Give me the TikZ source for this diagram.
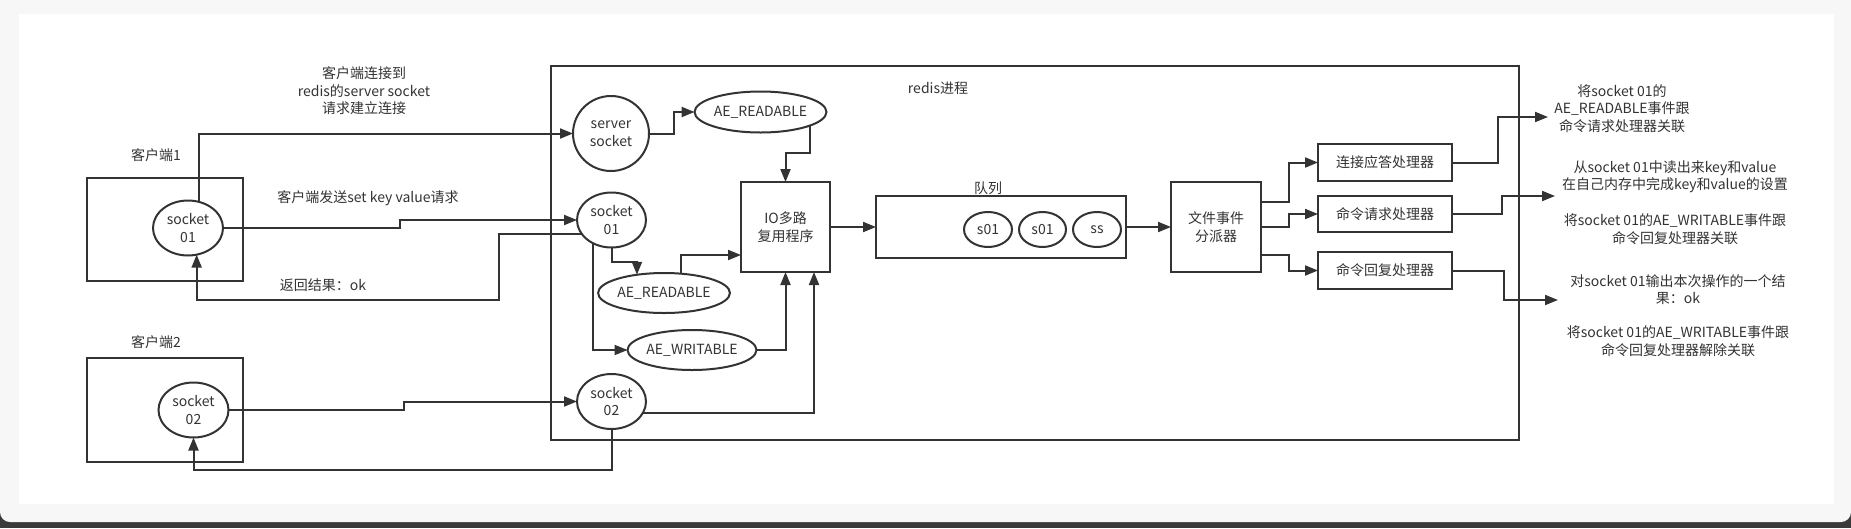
\documentclass[tikz,border=0pt]{standalone}
\usepackage{fontspec}
\setmainfont{Noto Sans CJK SC}
\usetikzlibrary{shapes.geometric,arrows.meta}
\definecolor{ink}{HTML}{333333}
\definecolor{panel}{HTML}{F7F7F7}
\definecolor{band}{HTML}{3A3A3A}

\begin{document}
\begin{tikzpicture}[x=1pt,y=-1pt,
  every node/.style={text=ink, font=\fontsize{14}{17.5}\selectfont, align=center, inner sep=0pt, outer sep=0pt},
  sock/.style={ellipse, draw=ink, line width=2pt, minimum width=70pt, minimum height=55pt},
  evt/.style={ellipse, draw=ink, line width=2pt, minimum width=121pt, minimum height=41pt},
  qitem/.style={ellipse, draw=ink, line width=2pt, minimum width=48pt, minimum height=35pt},
  box/.style={rectangle, draw=ink, line width=2pt},
  conn/.style={draw=ink, line width=2pt, -{Triangle[length=13pt,width=10pt]}}]
\useasboundingbox (0,0) rectangle (1851,528);
\fill[band] (0,0) rectangle (1851,528);
\fill[panel, rounded corners=10pt] (0,-20) rectangle (1851,522);
\fill[white] (19,14) rectangle (1834,504);

% clients
\node (cl1lbl) at (156,155) {客户端1};
\node[box, minimum width=156pt, minimum height=103pt] (cl1) at (165,229.5) {};
\node[sock] (cs1) at (188,228) {socket\\01};
\node (cl2lbl) at (156,342) {客户端2};
\node[box, minimum width=156pt, minimum height=104pt] (cl2) at (165,410) {};
\node[sock] (cs2) at (193.5,410) {socket\\02};

% redis process
\node[box, minimum width=968pt, minimum height=374pt] (redis) at (1035,253) {};
\node (redislbl) at (938,88) {redis进程};
\node[sock, minimum width=76pt, minimum height=75pt] (srv) at (611,133.5) {server\\socket};
\node[evt] (rd1) at (760.5,112) {AE\_READABLE};
\node[sock, minimum width=69pt] (ss1) at (611.5,220) {socket\\01};
\node[evt, minimum width=122pt, minimum height=40pt] (rd2) at (664,293) {AE\_READABLE};
\node[evt, minimum width=120pt, minimum height=40pt] (wr) at (692,350) {AE\_WRITABLE};
\node[sock, minimum width=69pt] (ss2) at (611.5,401.5) {socket\\02};
\node[box, minimum width=89pt, minimum height=90pt] (io) at (785.5,227) {IO多路\\复用程序};

\node[box, minimum width=250pt, minimum height=62pt] (queue) at (1001,227) {};
\node (queuelbl) at (988,188) {队列};
\node[qitem] (q1) at (988,229.5) {s01};
\node[qitem, minimum width=47pt] (q2) at (1042.5,229.5) {s01};
\node[qitem] (q3) at (1097,229.5) {ss};

\node[box, minimum width=90pt, minimum height=90pt] (disp) at (1216,227) {文件事件\\分派器};
\node[box, minimum width=134pt, minimum height=37pt] (h1) at (1385,162.5) {连接应答处理器};
\node[box, minimum width=134pt, minimum height=36pt] (h2) at (1385,214) {命令请求处理器};
\node[box, minimum width=134pt, minimum height=37pt] (h3) at (1385,270.5) {命令回复处理器};

% notes
\node (note1) at (364,91) {客户端连接到\\redis的server socket\\请求建立连接};
\node (note2) at (368,198) {客户端发送set key value请求};
\node (note3) at (323,285) {返回结果：ok};
\node (r1) at (1622,108.5) {将socket 01的\\AE\_READABLE事件跟\\命令请求处理器关联};
\node (r2) at (1675,177) {从socket 01中读出来key和value\\在自己内存中完成key和value的设置};
\node (r3) at (1675,229) {将socket 01的AE\_WRITABLE事件跟\\命令回复处理器关联};
\node (r4) at (1678,289.5) {对socket 01输出本次操作的一个结\\果：ok};
\node (r5) at (1678,341) {将socket 01的AE\_WRITABLE事件跟\\命令回复处理器解除关联};
\coordinate (e1) at (1548,117);
\coordinate (e2) at (1555,196);
\coordinate (e3) at (1558,300);

% connectors
\draw[conn] (cs1.68) |- (srv.west);
\draw[conn] (cs1.east) -- ++(177,0) |- (ss1.west);
\draw[conn] (ss1.205) -- ++(-83,0) -- ++(0,66) -| (cs1.-72);
\draw[conn] (cs2.east) -- ++(175,0) |- (ss2.west);
\draw[conn] (ss2.south) -- ++(0,41) -| (cs2.south);
\draw[conn] (srv.east) -- ++(25,0) |- (rd1.west);
\draw[conn] (rd1.-15) -- ++(0,28) -| (io.north);
\draw[conn] (ss1.south) -- ++(0,14.5) -| (rd2.146);
\draw[conn] (rd2.48) |- ([yshift=-28pt]io.west);
\draw[conn] (ss1.231) |- (wr.west);
\draw[conn] (wr.east) -| (io.south);
\draw[conn] (ss2.-20) -| ([xshift=28.5pt]io.south);
\draw[conn] (io) -- (queue);
\draw[conn] (queue) -- (disp);
\draw[conn] ([yshift=25pt]disp.east) -- ++(28,0) |- (h1.west);
\draw[conn] (disp.east) -- ++(28,0) |- (h2.west);
\draw[conn] ([yshift=-28pt]disp.east) -- ++(28,0) |- (h3.west);
\draw[conn] (h1.east) -- ++(46,0) |- (e1);
\draw[conn] (h2.east) -- ++(50,0) |- (e2);
\draw[conn] (h3.east) -- ++(52,0) |- (e3);
\end{tikzpicture}
\end{document}
